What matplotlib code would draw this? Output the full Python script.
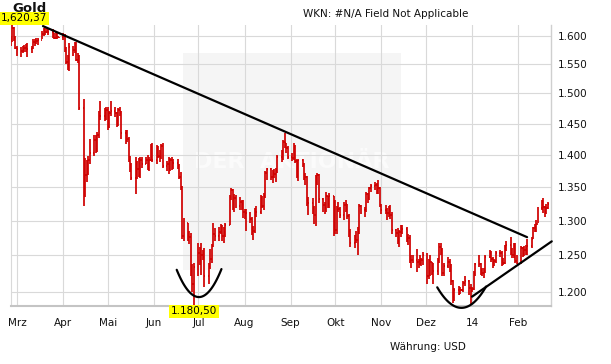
import matplotlib
matplotlib.use("Agg")
import matplotlib.pyplot as plt
import matplotlib.dates as mdates
import numpy as np
import pandas as pd
from matplotlib.collections import LineCollection
from matplotlib.ticker import FixedLocator, FuncFormatter, NullLocator
from matplotlib.patches import Rectangle

# ---------------- data (daily gold, USD) ----------------
start_date = "2013-02-25"
end_date = "2014-02-21"

close = [
    # Feb 2013 (25-28)
    1595, 1614, 1596, 1578,
    # Mar 2013
    1576, 1573, 1575, 1578, 1580, 1577, 1579, 1590, 1588, 1591, 1593,
    1604, 1612, 1607, 1614, 1607, 1605, 1596, 1606, 1598, 1598,
    # Apr 2013
    1600, 1576, 1554, 1559, 1581, 1575, 1586, 1558, 1564, 1476, 1348,
    1368, 1377, 1392, 1403, 1424, 1409, 1432, 1462, 1462, 1467, 1472,
    # May 2013
    1445, 1467, 1470, 1468, 1449, 1473, 1468, 1434, 1433, 1425, 1392, 1386,
    1364, 1385, 1377, 1368, 1392, 1386, 1392, 1378, 1391, 1413, 1391,
    # Jun 2013
    1411, 1398, 1397, 1414, 1383, 1386, 1377, 1391, 1389, 1387,
    1383, 1366, 1350, 1278, 1296, 1277, 1276, 1229, 1210, 1234,
    # Jul 2013
    1254, 1243, 1251, 1248, 1222, 1234, 1245, 1263, 1280, 1277, 1283, 1291,
    1277, 1284, 1294, 1335, 1345, 1319, 1334, 1321, 1327, 1324, 1313,
    # Aug 2013
    1309, 1311, 1302, 1283, 1285, 1313, 1313, 1333, 1322, 1336, 1372,
    1377, 1365, 1371, 1370, 1376, 1396, 1405, 1420, 1418, 1411, 1396,
    # Sep 2013
    1395, 1412, 1390, 1367, 1391, 1386, 1363, 1365, 1331, 1326, 1318,
    1308, 1365, 1368, 1332, 1323, 1318, 1337, 1324, 1337, 1327,
    # Oct 2013
    1286, 1316, 1317, 1308, 1323, 1324, 1307, 1285, 1268, 1273, 1272, 1282,
    1322, 1315, 1316, 1339, 1333, 1348, 1352, 1353, 1345, 1349, 1323,
    # Nov 2013
    1316, 1315, 1311, 1317, 1308, 1286, 1282, 1270, 1283, 1287, 1288,
    1273, 1275, 1243, 1243, 1243, 1241, 1242, 1238, 1244, 1250,
    # Dec 2013
    1221, 1243, 1241, 1226, 1229, 1244, 1262, 1257, 1226, 1235, 1241,
    1229, 1215, 1193, 1203, 1197, 1203, 1203, 1212, 1214, 1205, 1202,
    # Jan 2014
    1204, 1225, 1238, 1238, 1230, 1226, 1229, 1248, 1253, 1245, 1241, 1242,
    1254, 1254, 1242, 1239, 1262, 1265, 1254, 1251, 1264, 1242, 1240,
    # Feb 2014 (3-21)
    1260, 1252, 1258, 1257, 1263, 1274, 1289, 1290, 1295, 1319, 1329,
    1320, 1312, 1319, 1324,
]

high = [
    1600, 1620.37, 1616, 1600,
    1583, 1580, 1583, 1584, 1585, 1588, 1582, 1594, 1594, 1596, 1596,
    1610, 1615, 1614, 1616, 1615, 1612, 1606, 1609, 1608, 1599,
    1605, 1603, 1580, 1566, 1588, 1582, 1590, 1589, 1570, 1566, 1490,
    1395, 1392, 1398, 1425, 1431, 1432, 1436, 1470, 1487, 1476, 1478,
    1478, 1471, 1488, 1477, 1469, 1476, 1477, 1470, 1440, 1439, 1428, 1398,
    1387, 1396, 1390, 1395, 1397, 1397, 1396, 1399, 1396, 1417, 1418,
    1416, 1414, 1408, 1417, 1418, 1390, 1397, 1395, 1396, 1394,
    1393, 1386, 1373, 1352, 1304, 1297, 1285, 1282, 1238, 1240,
    1267, 1262, 1268, 1257, 1261, 1240, 1259, 1266, 1297, 1289, 1290, 1295,
    1293, 1290, 1297, 1338, 1348, 1347, 1340, 1338, 1335, 1330, 1331,
    1317, 1317, 1313, 1306, 1292, 1318, 1322, 1338, 1336, 1341, 1375,
    1380, 1380, 1376, 1378, 1380, 1399, 1407, 1424, 1434, 1418, 1414,
    1402, 1418, 1415, 1393, 1392, 1394, 1387, 1372, 1367, 1335, 1334,
    1322, 1368, 1372, 1370, 1334, 1327, 1342, 1337, 1341, 1337,
    1330, 1322, 1327, 1320, 1327, 1330, 1324, 1310, 1288, 1279, 1285, 1290,
    1324, 1323, 1320, 1343, 1341, 1350, 1355, 1357, 1356, 1361, 1350,
    1325, 1323, 1318, 1322, 1323, 1312, 1288, 1289, 1286, 1293, 1293,
    1290, 1280, 1279, 1250, 1250, 1259, 1245, 1250, 1246, 1255,
    1254, 1245, 1251, 1241, 1240, 1246, 1267, 1268, 1260, 1240, 1248,
    1245, 1238, 1216, 1205, 1208, 1206, 1204, 1215, 1222, 1216, 1210,
    1206, 1229, 1240, 1251, 1240, 1233, 1232, 1250, 1258, 1256, 1248, 1245,
    1256, 1258, 1256, 1247, 1265, 1270, 1276, 1260, 1268, 1267, 1250,
    1263, 1262, 1263, 1265, 1273, 1276, 1291, 1295, 1301, 1320, 1330,
    1334, 1322, 1324, 1327,
]

low = [
    1583, 1590, 1591, 1577,
    1565, 1563, 1570, 1571, 1572, 1562, 1570, 1576, 1582, 1585, 1584,
    1594, 1600, 1602, 1606, 1602, 1597, 1594, 1595, 1594, 1596,
    1593, 1572, 1550, 1540, 1539, 1565, 1570, 1555, 1553, 1473, 1321,
    1335, 1357, 1369, 1386, 1398, 1402, 1404, 1427, 1455, 1454, 1456,
    1440, 1443, 1462, 1461, 1445, 1446, 1462, 1425, 1417, 1420, 1388, 1373,
    1360, 1339, 1363, 1366, 1364, 1379, 1385, 1376, 1375, 1390, 1389,
    1385, 1395, 1388, 1393, 1380, 1375, 1370, 1375, 1376, 1378,
    1377, 1362, 1346, 1273, 1270, 1271, 1266, 1222, 1200, 1180.5,
    1221, 1237, 1223, 1244, 1207, 1211, 1231, 1239, 1262, 1271, 1270, 1280,
    1270, 1267, 1276, 1293, 1331, 1315, 1312, 1318, 1316, 1315, 1304,
    1302, 1285, 1297, 1279, 1272, 1282, 1306, 1310, 1318, 1316, 1334,
    1361, 1360, 1356, 1364, 1358, 1371, 1388, 1391, 1410, 1402, 1394,
    1390, 1391, 1387, 1364, 1359, 1381, 1360, 1353, 1321, 1308, 1309,
    1295, 1292, 1353, 1326, 1312, 1310, 1313, 1318, 1319, 1277,
    1280, 1281, 1312, 1304, 1301, 1313, 1302, 1276, 1262, 1261, 1267, 1251,
    1280, 1310, 1306, 1313, 1326, 1330, 1343, 1345, 1340, 1340, 1320,
    1310, 1309, 1301, 1305, 1303, 1281, 1276, 1266, 1262, 1276, 1280,
    1269, 1265, 1240, 1233, 1240, 1227, 1232, 1236, 1235, 1237,
    1211, 1217, 1221, 1223, 1211, 1223, 1240, 1250, 1222, 1222, 1232,
    1227, 1209, 1185, 1188, 1196, 1197, 1201, 1200, 1208, 1195, 1182,
    1200, 1202, 1221, 1234, 1223, 1221, 1219, 1226, 1246, 1241, 1232, 1235,
    1239, 1248, 1235, 1236, 1238, 1256, 1250, 1247, 1247, 1240, 1238,
    1238, 1248, 1249, 1251, 1251, 1261, 1273, 1283, 1283, 1296, 1316,
    1311, 1306, 1309, 1317,
]

y_ticks = [1200, 1250, 1300, 1350, 1400, 1450, 1500, 1550, 1600]
month_starts = pd.date_range("2013-03-01", "2014-02-01", freq="MS")
month_labels = ["Mrz", "Apr", "Mai", "Jun", "Jul", "Aug", "Sep", "Okt",
                "Nov", "Dez", "14", "Feb"]

max_label = "1,620,37"
min_label = "1.180,50"

# hand-drawn annotation lines (date, price)
trend_down_dates = ["2013-03-18 12:00", "2014-02-07 00:00"]
trend_down_prices = [1618, 1276]
trend_up_dates = ["2014-01-01 00:00", "2014-02-23 14:00"]
trend_up_prices = [1193.4, 1270]
cup_jun_dates = ["2013-06-16 10:00", "2013-06-29 12:00", "2013-07-16 12:00"]
cup_jun_prices = [1230, 1193.4, 1231]
cup_dec_dates = ["2013-12-08 14:00", "2013-12-23 00:00", "2014-01-10 10:00"]
cup_dec_prices = [1206, 1178.8, 1207]


def to_num(lst):
    return mdates.date2num(pd.to_datetime(lst, format="mixed"))


# ---------------- figure ----------------
W, H = 611, 364
fig = plt.figure(figsize=(W / 100, H / 100), dpi=100)
ax_top, ax_bot, ax_left, ax_right = 24.8, 306.3, 10.7, 550.7
ax = fig.add_axes([ax_left / W, (H - ax_bot) / H,
                   (ax_right - ax_left) / W, (ax_bot - ax_top) / H])

dates = pd.bdate_range(start_date, end_date)
x = mdates.date2num(dates)
close_a = np.array(close, float)
high_a = np.array(high, float)
low_a = np.array(low, float)
open_a = np.concatenate([[close_a[0]], close_a[:-1]])

segs = []
for xi, o, h, l, c in zip(x, open_a, high_a, low_a, close_a):
    segs.append([(xi, l), (xi, h)])
    segs.append([(xi - 0.6, o), (xi, o)])
    segs.append([(xi, c), (xi + 0.6, c)])
red = "#cf0000"
ax.add_collection(LineCollection(segs, colors=red, linewidths=1.25, zorder=3))

ax.set_yscale("log")
ax.set_ylim(low_a.min(), high_a.max())
ax.set_xlim(mdates.date2num(pd.Timestamp("2013-02-24 19:00")),
            mdates.date2num(pd.Timestamp("2014-02-22 21:00")))

ax.yaxis.set_major_locator(FixedLocator(y_ticks))
ax.yaxis.set_minor_locator(NullLocator())
ax.yaxis.set_major_formatter(FuncFormatter(lambda v, p: f"{v:,.0f}".replace(",", ".")))
ax.yaxis.tick_right()
ax.xaxis.set_major_locator(FixedLocator(mdates.date2num(month_starts)))
ax.xaxis.set_minor_locator(NullLocator())
ax.set_xticklabels(month_labels)
ax.tick_params(axis="y", length=0, pad=5, labelsize=7.5, labelcolor="#111111")
ax.tick_params(axis="x", length=0, pad=8.5, labelsize=7.5, labelcolor="#111111")

ax.grid(True, color="#d9d9d9", linewidth=0.8)
ax.set_axisbelow(True)
ax.spines["top"].set_visible(False)
ax.spines["left"].set_color("#d9d9d9")
ax.spines["left"].set_linewidth(0.8)
ax.spines["right"].set_color("#cfcfcf")
ax.spines["right"].set_linewidth(1.0)
ax.spines["bottom"].set_color("#c4c4c4")
ax.spines["bottom"].set_linewidth(1.5)

# watermark
wm_x0 = (183 - ax_left) / (ax_right - ax_left)
wm_x1 = (401 - ax_left) / (ax_right - ax_left)
wm_y0 = (ax_bot - 270) / (ax_bot - ax_top)
wm_y1 = (ax_bot - 53) / (ax_bot - ax_top)
ax.add_patch(Rectangle((wm_x0, wm_y0), wm_x1 - wm_x0, wm_y1 - wm_y0,
                       transform=ax.transAxes, facecolor="#f5f5f5",
                       edgecolor="none", zorder=0.2))
ax.text((wm_x0 + wm_x1) / 2, (ax_bot - 162) / (ax_bot - ax_top), "DER  AKTIONÄR",
        transform=ax.transAxes, ha="center", va="center", fontsize=16,
        fontweight="bold", color="#fbfbfb", zorder=0.3)

# annotation lines
lk = dict(color="black", linewidth=1.6, zorder=4, clip_on=False,
          solid_capstyle="round")
ax.plot(to_num(trend_down_dates), trend_down_prices, **lk)
ax.plot(to_num(trend_up_dates), trend_up_prices, **lk)
for cd, cp in [(cup_jun_dates, cup_jun_prices), (cup_dec_dates, cup_dec_prices)]:
    cx = to_num(cd)
    coef = np.polyfit(cx - cx[0], np.log(cp), 2)
    xs = np.linspace(cx[0], cx[-1], 60)
    ax.plot(xs, np.exp(np.polyval(coef, xs - cx[0])), **lk)

# titles and labels
fig.text(12 / W, 1 - 2 / H, "Gold", ha="left", va="top", fontsize=9.5,
         fontweight="bold", color="#111111")
fig.text(24 / W, 1 - 18.2 / H, max_label, ha="center", va="center", fontsize=7.5,
         color="black", zorder=10,
         bbox=dict(boxstyle="square,pad=0.15", facecolor="#ffff00", edgecolor="none"))
i_min = int(np.argmin(low_a))
ax.annotate(min_label, xy=(x[i_min], 0), xycoords=("data", "axes fraction"),
            xytext=(0, -3.7), textcoords="offset points", ha="center", va="center",
            fontsize=7.5, color="black", annotation_clip=False, zorder=10,
            bbox=dict(boxstyle="square,pad=0.15", facecolor="#ffff00", edgecolor="none"))
fig.text(386 / W, 1 - 14 / H, "WKN: #N/A Field Not Applicable", ha="center",
         va="center", fontsize=7.5, color="#111111")
fig.text(427.5 / W, 1 - 347 / H, "Währung: USD", ha="center", va="center",
         fontsize=7.5, color="#111111")

fig.savefig("out.png", dpi=100)
